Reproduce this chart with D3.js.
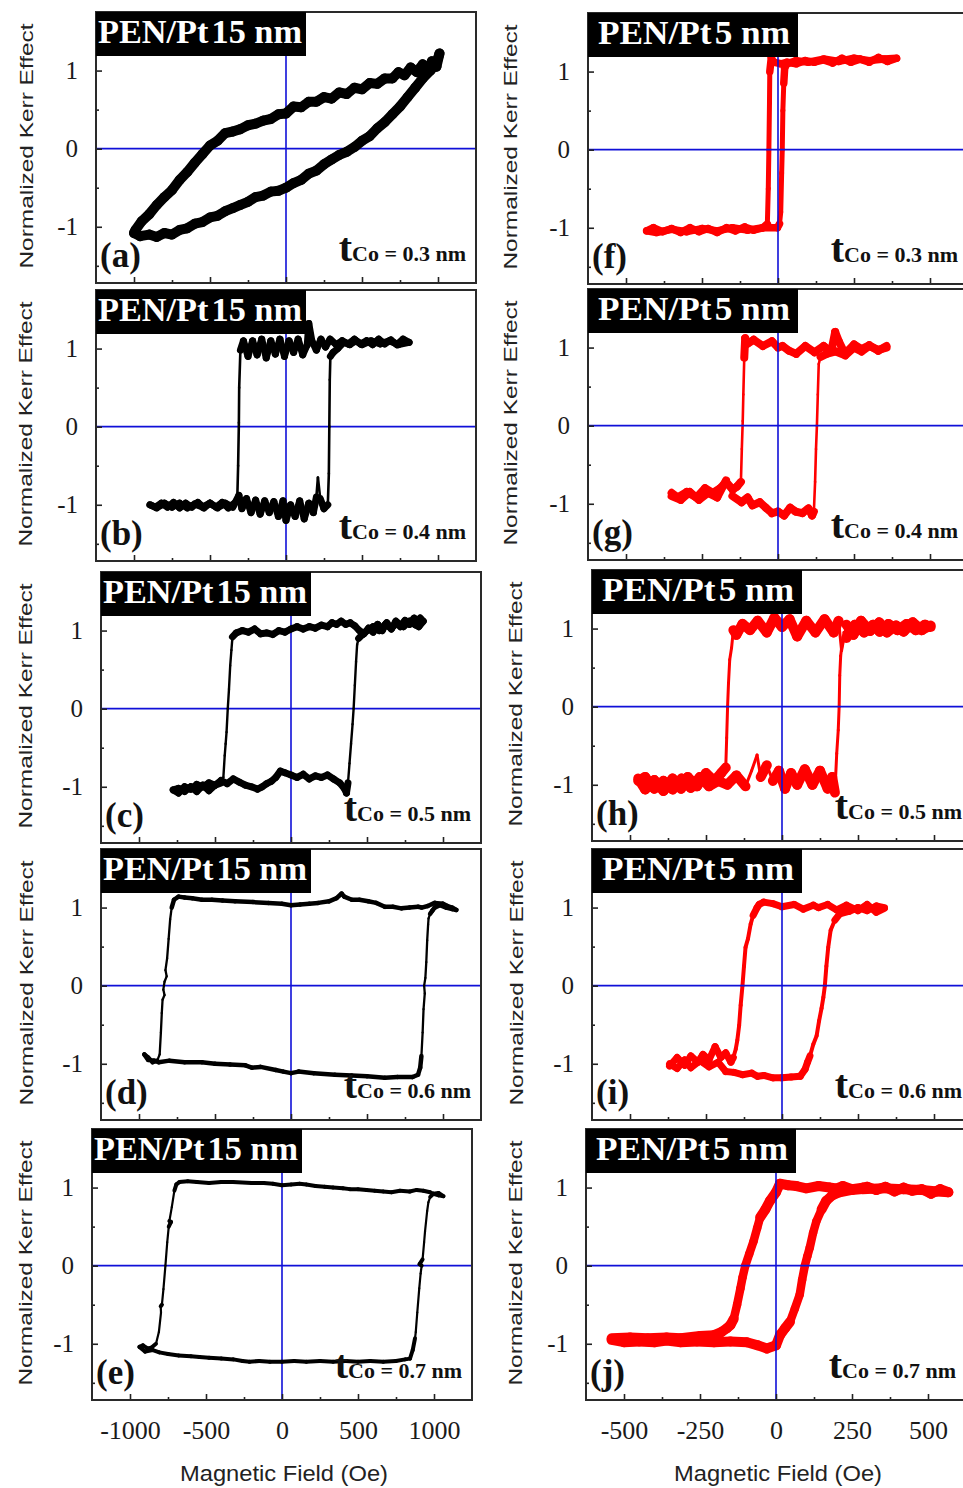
<!DOCTYPE html>
<html><head><meta charset="utf-8">
<script src="https://cdn.jsdelivr.net/npm/d3@7"></script>
<style>body{margin:0;background:#fff}svg{display:block}</style>
</head><body>
<svg id="chart" width="963" height="1488"></svg>
<script>
// ---------------- DATA ----------------
const panelLetters = ["a","b","c","d","e","f","g","h","i","j"];
const ptThickness = ["15","15","15","15","15","5","5","5","5","5"];
const coThickness = ["0.3","0.4","0.5","0.6","0.7","0.3","0.4","0.5","0.6","0.7"];
const leftFieldTicks = [-1000,-500,0,500,1000];
const leftFieldMinor = [-750,-250,250,750];
const rightFieldTicks = [-500,-250,0,250,500];
const rightFieldMinor = [-375,-125,125,375];
const kerrTicks = [-1,0,1];
const kerrMinor = [-1.5,-0.5,0.5,1.5];
const yTitle = "Normalized Kerr Effect";
const xTitle = "Magnetic Field (Oe)";

// (a) PEN/Pt15, tCo 0.3
const aDown = [[1010,1.22],[990,1.05],[960,1.12],[930,1.0],[900,1.08],[860,0.98],[820,1.04],[780,0.94],[740,0.98],[700,0.9],[650,0.9],[600,0.83],[550,0.84],[500,0.76],[450,0.78],[400,0.7],[350,0.72],[300,0.64],[250,0.66],[200,0.6],[150,0.6],[100,0.53],[50,0.54],[0,0.45],[-50,0.44],[-100,0.38],[-150,0.36],[-200,0.32],[-250,0.3],[-300,0.25],[-350,0.22],[-400,0.2],[-450,0.1],[-500,0.04],[-550,-0.07],[-600,-0.18],[-650,-0.3],[-700,-0.4],[-750,-0.53],[-800,-0.62],[-850,-0.72],[-900,-0.84],[-950,-0.93],[-990,-1.04],[-1000,-1.08]];
const aUp = [[-1000,-1.08],[-960,-1.12],[-900,-1.1],[-850,-1.13],[-800,-1.08],[-750,-1.1],[-700,-1.04],[-650,-1.02],[-600,-0.96],[-550,-0.94],[-500,-0.88],[-450,-0.86],[-400,-0.8],[-350,-0.76],[-300,-0.72],[-250,-0.68],[-200,-0.62],[-150,-0.6],[-100,-0.55],[-50,-0.54],[0,-0.5],[50,-0.44],[100,-0.4],[150,-0.32],[200,-0.28],[250,-0.2],[300,-0.14],[350,-0.08],[400,-0.04],[450,0.02],[500,0.1],[550,0.16],[600,0.26],[650,0.34],[700,0.44],[750,0.54],[800,0.66],[850,0.78],[900,0.9],[950,1.0],[990,1.1],[1010,1.22]];
// (b) PEN/Pt15, tCo 0.4
const bDown = [[810,1.08],[770,1.12],[730,1.05],[690,1.11],[650,1.06],[610,1.12],[570,1.05],[530,1.1],[490,1.06],[450,1.12],[410,1.06],[370,1.1],[330,1.05],[290,1.12],[260,1.02],[230,1.12],[200,0.98],[170,1.1],[150,1.32],[140,1.05],[110,0.92],[80,1.12],[50,0.95],[20,1.1],[-10,0.9],[-40,1.12],[-70,0.93],[-100,1.1],[-130,0.88],[-160,1.12],[-190,0.92],[-220,1.1],[-250,0.9],[-280,1.1],[-300,0.98],[-308,0.5],[-310,0.05],[-315,-0.5],[-320,-0.88],[-340,-0.98],[-380,-1.04],[-420,-0.97],[-460,-1.03],[-500,-0.98],[-540,-1.04],[-580,-0.97],[-620,-1.03],[-660,-0.98],[-700,-1.04],[-740,-0.97],[-780,-1.03],[-820,-0.98],[-860,-1.03],[-895,-1.0]];
const bUp = [[-895,-1.0],[-850,-1.04],[-800,-0.98],[-750,-1.03],[-700,-0.98],[-650,-1.04],[-600,-0.99],[-550,-1.03],[-500,-0.98],[-450,-1.04],[-400,-0.98],[-350,-1.03],[-310,-0.88],[-290,-1.05],[-260,-0.92],[-230,-1.1],[-200,-0.94],[-170,-1.12],[-140,-0.95],[-110,-1.1],[-80,-0.96],[-50,-1.15],[-20,-0.95],[0,-1.2],[30,-1.0],[60,-1.15],[90,-0.95],[120,-1.18],[150,-0.98],[180,-1.1],[200,-0.9],[210,-0.65],[225,-0.92],[250,-1.05],[275,-1.0],[282,-0.6],[285,0.0],[288,0.6],[292,0.9],[310,0.95],[340,1.0],[380,1.08],[420,1.05],[460,1.1],[500,1.05],[560,1.1],[620,1.06],[680,1.1],[740,1.05],[810,1.08]];
// (c) PEN/Pt15, tCo 0.5
const cDown = [[870,1.12],[840,1.05],[810,1.16],[780,1.08],[750,1.13],[720,1.05],[690,1.12],[660,1.02],[630,1.1],[600,1.0],[570,1.08],[540,0.98],[510,1.03],[480,0.96],[450,1.0],[420,1.06],[390,1.1],[360,1.08],[330,1.12],[300,1.08],[270,1.1],[240,1.05],[200,1.07],[160,1.03],[120,1.05],[80,1.02],[40,1.05],[0,1.02],[-40,0.98],[-80,1.0],[-120,0.95],[-160,0.97],[-200,0.96],[-240,1.02],[-280,0.98],[-320,1.0],[-360,0.97],[-385,0.92],[-392,0.75],[-400,0.55],[-408,0.25],[-416,0.0],[-424,-0.3],[-430,-0.45],[-436,-0.6],[-445,-0.88],[-460,-0.95],[-500,-0.98],[-540,-1.05],[-580,-0.98],[-620,-1.06],[-660,-1.0],[-700,-1.06],[-740,-1.02],[-775,-1.04]];
const cUp = [[-775,-1.04],[-740,-1.08],[-700,-1.0],[-660,-1.03],[-620,-0.97],[-580,-1.0],[-540,-0.95],[-500,-0.98],[-460,-0.92],[-420,-0.96],[-380,-0.9],[-340,-0.94],[-300,-0.98],[-260,-1.0],[-220,-1.03],[-190,-1.0],[-160,-0.96],[-130,-0.93],[-100,-0.88],[-70,-0.8],[-40,-0.82],[0,-0.85],[40,-0.88],[80,-0.84],[120,-0.9],[160,-0.86],[200,-0.88],[240,-0.85],[280,-0.9],[320,-0.95],[350,-1.02],[365,-1.08],[375,-0.95],[385,-0.7],[395,-0.45],[405,-0.2],[412,0.0],[420,0.3],[428,0.6],[435,0.82],[445,0.9],[470,0.95],[500,1.0],[540,1.05],[580,1.0],[620,1.08],[660,1.03],[700,1.1],[740,1.05],[780,1.12],[820,1.07],[850,1.16],[870,1.12]];
// (d) PEN/Pt15, tCo 0.6
const dDown = [[1088,0.97],[1060,1.0],[1030,1.02],[1000,1.05],[945,1.06],[900,1.02],[860,1.0],[836,1.01],[780,1.0],[726,0.99],[670,1.01],[617,1.01],[560,1.06],[508,1.08],[450,1.1],[400,1.1],[350,1.14],[333,1.18],[300,1.12],[250,1.08],[179,1.06],[120,1.05],[60,1.04],[0,1.03],[-60,1.05],[-149,1.06],[-250,1.07],[-368,1.08],[-450,1.09],[-520,1.1],[-586,1.1],[-650,1.12],[-700,1.13],[-740,1.14],[-770,1.1],[-785,1.0],[-795,0.85],[-805,0.6],[-815,0.35],[-826,0.2],[-818,0.12],[-832,0.05],[-840,-0.05],[-832,-0.12],[-845,-0.18],[-850,-0.35],[-856,-0.6],[-864,-0.88],[-880,-0.96],[-910,-0.98],[-940,-0.92],[-965,-0.88]];
const dUp = [[-965,-0.88],[-940,-0.95],[-900,-0.96],[-871,-0.98],[-800,-0.96],[-700,-0.98],[-586,-0.98],[-500,-1.0],[-400,-1.01],[-300,-1.02],[-258,-1.05],[-200,-1.04],[-100,-1.08],[-50,-1.1],[0,-1.12],[50,-1.1],[150,-1.12],[289,-1.14],[400,-1.15],[500,-1.16],[617,-1.18],[700,-1.17],[800,-1.17],[836,-1.14],[850,-1.05],[858,-0.9],[866,-0.6],[872,-0.3],[880,-0.1],[876,0.0],[884,0.1],[890,0.3],[896,0.58],[902,0.78],[905,0.86],[915,0.92],[930,0.96],[945,1.0],[980,1.03],[1020,1.0],[1060,0.98],[1088,0.97]];
// (e) PEN/Pt15, tCo 0.7
const eDown = [[1062,0.89],[1030,0.93],[995,0.92],[974,0.94],[930,0.96],[886,0.97],[840,0.95],[776,0.96],[720,0.94],[666,0.95],[610,0.96],[556,0.97],[500,0.98],[446,0.98],[400,0.99],[336,1.0],[280,1.01],[220,1.02],[160,1.04],[116,1.05],[60,1.04],[0,1.03],[-60,1.05],[-120,1.06],[-200,1.06],[-323,1.07],[-400,1.07],[-480,1.06],[-560,1.07],[-620,1.08],[-675,1.07],[-695,1.04],[-708,0.96],[-725,0.75],[-741,0.57],[-730,0.56],[-745,0.5],[-755,0.3],[-767,0.0],[-780,-0.3],[-790,-0.5],[-798,-0.52],[-796,-0.6],[-810,-0.85],[-829,-1.0],[-860,-1.05],[-884,-1.06],[-915,-1.02],[-938,-1.04]];
const eUp = [[-938,-1.04],[-900,-1.1],[-850,-1.08],[-807,-1.11],[-750,-1.13],[-680,-1.15],[-600,-1.16],[-543,-1.17],[-480,-1.18],[-400,-1.19],[-320,-1.2],[-260,-1.22],[-213,-1.23],[-150,-1.22],[-80,-1.23],[0,-1.23],[80,-1.22],[160,-1.23],[250,-1.22],[336,-1.23],[420,-1.22],[500,-1.23],[580,-1.22],[666,-1.23],[750,-1.22],[810,-1.2],[842,-1.19],[860,-1.08],[875,-0.93],[880,-0.85],[890,-0.6],[903,-0.29],[912,-0.1],[919,0.0],[905,0.02],[925,0.08],[935,0.3],[941,0.44],[955,0.7],[963,0.81],[975,0.88],[996,0.92],[1030,0.9],[1062,0.89]];
// (f) PEN/Pt5, tCo 0.3
const fDown = [[390,1.17],[360,1.13],[330,1.18],[300,1.12],[270,1.16],[240,1.12],[210,1.17],[180,1.11],[150,1.15],[120,1.12],[90,1.14],[60,1.1],[30,1.12],[10,1.1],[-15,1.12],[-22,1.18],[-27,1.0],[-28,0.6],[-30,0.0],[-32,-0.5],[-35,-0.95],[-50,-1.0],[-80,-1.03],[-110,-0.99],[-140,-1.04],[-170,-1.0],[-200,-1.06],[-230,-1.01],[-260,-1.05],[-290,-1.0],[-320,-1.06],[-350,-1.01],[-380,-1.05],[-410,-1.0],[-432,-1.04]];
const fUp = [[-432,-1.04],[-400,-1.06],[-350,-1.02],[-300,-1.05],[-250,-1.01],[-200,-1.04],[-150,-1.0],[-100,-1.03],[-50,-1.0],[-2,-1.0],[5,-0.95],[9,-0.8],[12,-0.3],[14,0.0],[16,0.5],[19,0.85],[22,1.05],[30,1.1],[60,1.14],[100,1.12],[150,1.16],[200,1.13],[250,1.17],[300,1.14],[350,1.16],[390,1.17]];
// (g) PEN/Pt5, tCo 0.4
const gDown = [[357,1.02],[330,0.96],[300,1.03],[275,0.98],[250,1.04],[220,0.92],[200,1.08],[188,1.2],[175,0.95],[150,1.02],[120,0.94],[90,1.02],[60,0.92],[36,0.96],[15,1.02],[0,1.0],[-20,1.08],[-50,1.02],[-80,1.1],[-100,1.05],[-108,1.12],[-111,0.87],[-114,0.4],[-116,0.06],[-119,-0.3],[-122,-0.72],[-135,-0.78],[-149,-0.82],[-171,-0.72],[-190,-0.8],[-214,-0.86],[-240,-0.8],[-268,-0.92],[-300,-0.85],[-330,-0.92],[-350,-0.86]];
const gUp = [[-350,-0.9],[-320,-0.95],[-290,-0.85],[-260,-0.95],[-230,-0.86],[-200,-0.92],[-171,-0.7],[-150,-0.9],[-120,-0.98],[-100,-0.92],[-84,-1.02],[-60,-0.98],[-40,-1.05],[-20,-1.12],[0,-1.1],[20,-1.15],[40,-1.05],[58,-1.1],[80,-1.12],[100,-1.06],[112,-1.15],[118,-1.1],[122,-0.72],[125,-0.3],[128,0.0],[131,0.4],[134,0.79],[140,0.88],[160,0.92],[190,0.95],[221,0.9],[250,1.0],[275,0.95],[300,1.02],[330,0.97],[357,1.0]];
// (h) PEN/Pt5, tCo 0.5
const hDown = [[489,1.04],[460,0.98],[430,1.08],[400,0.96],[375,1.04],[345,0.95],[320,1.08],[290,0.97],[260,1.1],[235,0.92],[212,1.05],[196,0.72],[186,1.1],[170,0.95],[140,1.12],[110,0.95],[80,1.1],[50,0.9],[25,1.12],[0,1.02],[-25,1.14],[-50,0.95],[-80,1.1],[-105,0.98],[-130,1.06],[-150,0.92],[-160,0.98],[-166,0.75],[-172,0.6],[-176,0.3],[-179,0.0],[-182,-0.4],[-185,-0.78],[-200,-0.85],[-223,-0.95],[-250,-0.85],[-280,-1.02],[-310,-0.9],[-332,-1.05],[-360,-0.92],[-390,-1.08],[-420,-0.94],[-450,-1.06],[-473,-0.92]];
const hUp = [[-473,-0.95],[-450,-0.9],[-420,-1.05],[-390,-0.95],[-360,-1.06],[-330,-0.92],[-300,-1.04],[-270,-0.9],[-240,-1.02],[-210,-0.95],[-180,-1.0],[-150,-0.88],[-120,-1.02],[-100,-0.82],[-82,-0.62],[-70,-0.9],[-50,-0.75],[-30,-0.95],[-10,-0.82],[10,-1.05],[30,-0.85],[50,-1.0],[75,-0.8],[100,-1.0],[125,-0.82],[150,-1.05],[165,-0.9],[174,-1.1],[180,-0.6],[185,-0.3],[188,0.0],[190,0.4],[193,0.65],[196,0.75],[204,0.95],[212,0.88],[240,1.05],[270,0.95],[300,1.05],[321,0.96],[350,1.06],[380,0.98],[410,1.06],[440,0.98],[470,1.05],[489,1.02]];
// (i) PEN/Pt5, tCo 0.6
const iDown = [[337,0.99],[310,0.94],[280,1.04],[250,0.96],[212,1.03],[180,0.97],[150,1.04],[120,1.0],[103,1.03],[70,0.98],[40,1.04],[0,1.01],[-30,1.05],[-60,1.07],[-75,1.04],[-82,1.0],[-95,0.9],[-103,0.79],[-112,0.6],[-120,0.49],[-125,0.25],[-130,0.0],[-136,-0.25],[-141,-0.51],[-147,-0.7],[-152,-0.81],[-160,-0.92],[-168,-0.98],[-185,-0.86],[-201,-0.92],[-220,-0.78],[-240,-0.95],[-260,-0.88],[-277,-0.98],[-300,-0.9],[-320,-1.02],[-345,-0.92],[-370,-1.03]];
const iUp = [[-370,-1.0],[-345,-1.06],[-320,-0.95],[-300,-1.05],[-270,-0.96],[-240,-1.04],[-210,-0.98],[-185,-1.1],[-158,-1.11],[-130,-1.14],[-100,-1.12],[-80,-1.16],[-60,-1.15],[-30,-1.18],[0,-1.18],[30,-1.17],[60,-1.16],[76,-1.07],[84,-0.98],[92,-0.9],[103,-0.75],[114,-0.64],[122,-0.45],[130,-0.29],[136,-0.15],[141,0.0],[146,0.25],[152,0.49],[160,0.71],[174,0.84],[190,0.92],[220,0.95],[250,1.0],[280,0.96],[310,1.02],[337,1.0]];
// (j) PEN/Pt5, tCo 0.7
const jDown = [[567,0.94],[540,0.98],[510,0.92],[480,0.98],[448,0.96],[420,1.0],[390,0.95],[360,1.01],[330,0.97],[300,1.01],[285,1.0],[250,0.98],[220,1.02],[200,0.99],[176,1.0],[140,1.02],[100,0.99],[67,1.02],[40,1.03],[13,1.05],[0,0.94],[-20,0.83],[-35,0.72],[-52,0.62],[-62,0.48],[-74,0.31],[-88,0.15],[-101,0.0],[-110,-0.15],[-117,-0.29],[-128,-0.5],[-139,-0.68],[-150,-0.76],[-161,-0.8],[-180,-0.85],[-204,-0.89],[-250,-0.9],[-313,-0.93],[-360,-0.92],[-422,-0.93],[-480,-0.92],[-541,-0.93]];
const jUp = [[-541,-0.95],[-500,-0.98],[-450,-0.97],[-400,-0.98],[-360,-0.96],[-313,-0.98],[-260,-0.97],[-204,-0.98],[-150,-0.97],[-96,-0.98],[-60,-1.02],[-30,-1.06],[0,-1.02],[13,-0.89],[30,-0.8],[46,-0.72],[62,-0.55],[78,-0.37],[86,-0.18],[95,0.0],[103,0.12],[111,0.23],[122,0.42],[133,0.57],[150,0.72],[165,0.83],[185,0.9],[209,0.94],[250,0.97],[285,0.98],[350,0.99],[420,0.98],[480,0.97],[530,0.95],[567,0.94]];

const loops = [[aDown,aUp],[bDown,bUp],[cDown,cUp],[dDown,dUp],[eDown,eUp],
               [fDown,fUp],[gDown,gUp],[hDown,hUp],[iDown,iUp],[jDown,jUp]];

// ---------------- LAYOUT ----------------
const W = 380, H = 271;
// flat = stroke width for saturated/noisy stretches, steep = stroke width for switching edges
const layout = [
  {left:96, top:12, titleX:33, flat:10, steep:9, col:0},
  {left:96, top:290, titleX:32, flat:7, steep:2.6, col:0},
  {left:101, top:572, titleX:32, flat:7, steep:2.4, col:0},
  {left:101, top:849, titleX:33, flat:4.5, steep:2.3, col:0},
  {left:92, top:1129, titleX:32, flat:4, steep:2.2, col:0},
  {left:588, top:13, titleX:517, flat:7.5, steep:5, col:1},
  {left:588, top:289, titleX:517, flat:8, steep:2.6, col:1},
  {left:592, top:570, titleX:522, flat:10, steep:3, col:1},
  {left:592, top:849, titleX:523, flat:7, steep:4, col:1},
  {left:586, top:1129, titleX:522, flat:10, steep:8.5, col:1}
];
const serif = "'Liberation Serif','DejaVu Serif',serif";
const sans = "'Liberation Sans',Arial,sans-serif";
const blue = "#1010d8";

const svg = d3.select("#chart");
svg.append("rect").attr("width",963).attr("height",1488).attr("fill","#fff");

layout.forEach((L, k) => {
  const col = L.col;
  const g = svg.append("g");
  const x = d3.scaleLinear().domain(col===0 ? [-1250,1250] : [-625,625]).range([L.left, L.left+W]);
  const y = d3.scaleLinear().domain([-1.72,1.75]).range([L.top+H, L.top]);
  const bottom = L.top + H, right = L.left + W;
  const isBottomRow = (k===4 || k===9);

  // blue reference lines
  const blueG = g.append("g");
  blueG.append("line").attr("x1",x(0)).attr("x2",x(0)).attr("y1",L.top).attr("y2",bottom)
    .attr("stroke",blue).attr("stroke-width",1.6);
  blueG.append("line").attr("x1",L.left).attr("x2",right).attr("y1",y(0)).attr("y2",y(0))
    .attr("stroke",blue).attr("stroke-width",1.6);

  // loop: segments, thinner on the steep switching edges
  const color = col===0 ? "#000" : "#ff0000";
  const lg = g.append("g").attr("stroke",color).attr("stroke-linecap","round");
  loops[k].forEach(branch => {
    d3.pairs(branch).forEach(([p, q]) => {
      const x1 = x(p[0]), y1 = y(p[1]), x2 = x(q[0]), y2 = y(q[1]);
      const steep = Math.abs(y2-y1) > 2.2*Math.abs(x2-x1) && Math.abs((p[1]+q[1])/2) < 0.93;
      lg.append("line").attr("x1",x1).attr("y1",y1).attr("x2",x2).attr("y2",y2)
        .attr("stroke-width", steep ? L.steep : L.flat);
    });
  });
  if (col===1) blueG.raise();

  // axes ticks (inward)
  const majX = col===0 ? leftFieldTicks : rightFieldTicks;
  const minX = col===0 ? leftFieldMinor : rightFieldMinor;
  const axB = g.append("g").attr("transform",`translate(0,${bottom})`)
    .call(d3.axisBottom(x).tickValues(majX).tickSizeInner(-6).tickSizeOuter(0)
      .tickPadding(21).tickFormat(isBottomRow ? (d=>String(d)) : ""));
  axB.select(".domain").remove();
  axB.selectAll("line").attr("stroke","#222").attr("stroke-width",1.6);
  axB.selectAll("text").attr("font-family",serif).attr("font-size",26).attr("fill","#1a1a1a");
  const axBm = g.append("g").attr("transform",`translate(0,${bottom})`)
    .call(d3.axisBottom(x).tickValues(minX).tickSizeInner(-3).tickSizeOuter(0).tickFormat(""));
  axBm.select(".domain").remove();
  axBm.selectAll("line").attr("stroke","#222").attr("stroke-width",1.6);

  const axL = g.append("g").attr("transform",`translate(${L.left},0)`)
    .call(d3.axisLeft(y).tickValues(kerrTicks).tickSizeInner(-6).tickSizeOuter(0)
      .tickPadding(18).tickFormat(d=>String(d)));
  axL.select(".domain").remove();
  axL.selectAll("line").attr("stroke","#222").attr("stroke-width",1.6);
  axL.selectAll("text").attr("font-family",serif).attr("font-size",25).attr("fill","#1a1a1a");
  const axLm = g.append("g").attr("transform",`translate(${L.left},0)`)
    .call(d3.axisLeft(y).tickValues(kerrMinor).tickSizeInner(-3).tickSizeOuter(0).tickFormat(""));
  axLm.select(".domain").remove();
  axLm.selectAll("line").attr("stroke","#222").attr("stroke-width",1.6);

  // frame
  g.append("rect").attr("x",L.left).attr("y",L.top).attr("width",W).attr("height",H)
    .attr("fill","none").attr("stroke","#2a2a2a").attr("stroke-width",2);

  // title box
  g.append("rect").attr("x",L.left).attr("y",L.top).attr("width",210).attr("height",44).attr("fill","#000");
  const tt = g.append("text").attr("x", L.left + (col===0?2:10)).attr("y", L.top+31)
    .attr("font-family",serif).attr("font-weight","bold").attr("font-size",33).attr("fill","#fff")
    .attr("textLength", col===0?204:192).attr("lengthAdjust","spacingAndGlyphs");
  tt.append("tspan").text("PEN/Pt");
  tt.append("tspan").attr("dx",3).text(ptThickness[k] + " nm");

  // panel letter
  g.append("text").attr("x",L.left+4).attr("y",bottom-16)
    .attr("font-family",serif).attr("font-weight","bold").attr("font-size",35).attr("fill","#111")
    .text("(" + panelLetters[k] + ")");

  // tCo label
  const tc = g.append("text").attr("x",right-10).attr("y",bottom-22).attr("text-anchor","end")
    .attr("font-family",serif).attr("font-weight","bold").attr("fill","#111");
  tc.append("tspan").attr("font-size",40).text("t");
  tc.append("tspan").attr("font-size",22).text("Co = " + coThickness[k] + " nm");

  // y title
  g.append("text").attr("transform",`translate(${L.titleX},${L.top+134}) rotate(-90)`)
    .attr("text-anchor","middle").attr("font-family",sans).attr("font-size",18).attr("fill","#222")
    .attr("textLength",245).attr("lengthAdjust","spacingAndGlyphs")
    .text(yTitle);

  if (isBottomRow) {
    g.append("text").attr("x", x(0)+2).attr("y",1481).attr("text-anchor","middle")
      .attr("font-family",sans).attr("font-size",22).attr("fill","#222")
      .attr("textLength",208).attr("lengthAdjust","spacingAndGlyphs")
      .text(xTitle);
  }
});
</script>
</body></html>
